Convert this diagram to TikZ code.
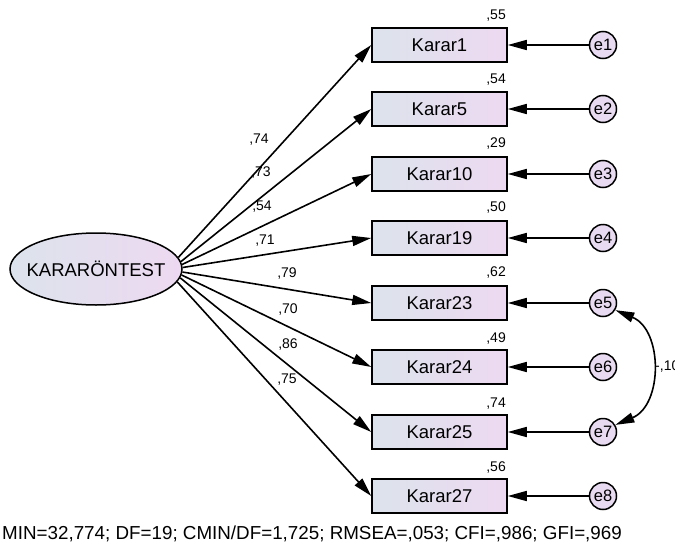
\documentclass[tikz,border=0pt]{standalone}
\usepackage{fontspec}
\setmainfont{Liberation Sans}
\usetikzlibrary{arrows.meta,shapes.geometric}
\definecolor{gl}{HTML}{DCE3EC}
\definecolor{gr}{HTML}{EDD9F1}
\definecolor{ec}{HTML}{E8DAF0}
\begin{document}
\begin{tikzpicture}[x=1pt,y=-1pt,
  obs/.style={draw, line width=1.5pt, rectangle, minimum width=135pt, minimum height=34pt, inner sep=0pt, left color=gl, right color=gr, font=\fontsize{18.5}{20}\selectfont},
  lat/.style={draw, line width=1.5pt, ellipse, minimum width=172pt, minimum height=72pt, inner sep=0pt, left color=gl, right color=gr, font=\fontsize{18.5}{20}\selectfont},
  err/.style={draw, line width=1.5pt, circle, minimum size=27pt, inner sep=0pt, fill=ec, font=\fontsize{16.5}{18}\selectfont},
  lbl/.style={font=\fontsize{14}{16}\selectfont, inner sep=0pt},
  conn/.style={line width=1.6pt, -{Triangle[length=19pt,width=10pt]}},
  cov/.style={line width=1.6pt, {Triangle[length=19pt,width=10pt]}-{Triangle[length=19pt,width=10pt]}},
]
\useasboundingbox (0,0) rectangle (675,549);

% latent
\node[lat] (F) at (96,269) {\makebox[0pt]{KARARÖNTEST}};

% observed
\node[obs] (k1)  at (439.5,45)  {Karar1};
\node[obs] (k5)  at (439.5,109) {Karar5};
\node[obs] (k10) at (439.5,174) {Karar10};
\node[obs] (k19) at (439.5,238) {Karar19};
\node[obs] (k23) at (439.5,303) {Karar23};
\node[obs] (k24) at (439.5,367) {Karar24};
\node[obs] (k25) at (439.5,432) {Karar25};
\node[obs] (k27) at (439.5,496) {Karar27};

% errors
\node[err] (e1) at (603,45)  {e1};
\node[err] (e2) at (603,109) {e2};
\node[err] (e3) at (603,174) {e3};
\node[err] (e4) at (603,238) {e4};
\node[err] (e5) at (603,303) {e5};
\node[err] (e6) at (603,367) {e6};
\node[err] (e7) at (603,432) {e7};
\node[err] (e8) at (603,496) {e8};

% loadings (starting near the right tip of the ellipse)
\draw[conn] (F.8)  -- (k1.west);
\draw[conn] (F.5)  -- (k5.west);
\draw[conn] (F.3)  -- (k10.west);
\draw[conn] (F.1)  -- (k19.west);
\draw[conn] (F.-2) -- (k23.west);
\draw[conn] (F.-4) -- (k24.west);
\draw[conn] (F.-6) -- (k25.west);
\draw[conn] (F.-9) -- (k27.west);

% error paths
\draw[conn] (e1) -- (k1.east);
\draw[conn] (e2) -- (k5.east);
\draw[conn] (e3) -- (k10.east);
\draw[conn] (e4) -- (k19.east);
\draw[conn] (e5) -- (k23.east);
\draw[conn] (e6) -- (k24.east);
\draw[conn] (e7) -- (k25.east);
\draw[conn] (e8) -- (k27.east);

% covariance
\draw[cov] (e5.-30) .. controls (663,330) and (663,405) .. (e7.30);
\node[lbl, anchor=west] (c57) at (655,367) {-,10};

% loading labels
\node[lbl] (l1)  at (259,140) {,74};
\node[lbl] (l5)  at (261,173) {,73};
\node[lbl] (l10) at (262,207) {,54};
\node[lbl] (l19) at (265,241) {,71};
\node[lbl] (l23) at (287,274) {,79};
\node[lbl] (l24) at (288,310) {,70};
\node[lbl] (l25) at (288,345) {,86};
\node[lbl] (l27) at (287,380) {,75};

% R2 labels
\node[lbl, anchor=east] (r1)  at (506,16)  {,55};
\node[lbl, anchor=east] (r5)  at (506,80)  {,54};
\node[lbl, anchor=east] (r10) at (506,144) {,29};
\node[lbl, anchor=east] (r19) at (506,208) {,50};
\node[lbl, anchor=east] (r23) at (506,273) {,62};
\node[lbl, anchor=east] (r24) at (506,339) {,49};
\node[lbl, anchor=east] (r25) at (506,404) {,74};
\node[lbl, anchor=east] (r27) at (506,468) {,56};

% fit line
\node[anchor=west, inner sep=0pt, font=\fontsize{18.8}{20}\selectfont] (fit) at (2,534) {MIN=32,774; DF=19; CMIN/DF=1,725; RMSEA=,053; CFI=,986; GFI=,969};
\end{tikzpicture}
\end{document}
